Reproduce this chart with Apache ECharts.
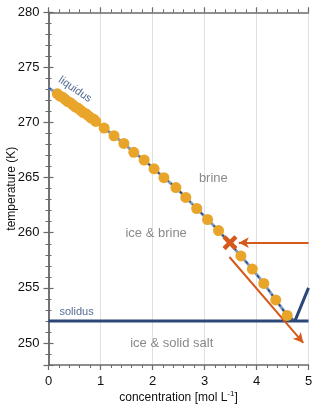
<!DOCTYPE html>
<html>
<head>
<meta charset="utf-8">
<script src="https://cdn.jsdelivr.net/npm/echarts@6/dist/echarts.min.js"></script>
<style>
  html, body { margin: 0; padding: 0; background: #fff; }
  #chart { width: 320px; height: 412px; }
</style>
</head>
<body>
<div id="chart"></div>
<script>
// measured freezing points (concentration in mol/L, temperature in K)
const measuredX = [0.17, 0.22, 0.27, 0.32, 0.37, 0.42, 0.47, 0.52, 0.57, 0.62, 0.67, 0.72, 0.77, 0.82, 0.87, 0.91,
    1.07, 1.26, 1.45, 1.64, 1.84, 2.03, 2.22, 2.45, 2.64, 2.85, 3.06, 3.27, 3.70, 3.92, 4.14, 4.37, 4.59];
const measuredT = [272.6, 272.4, 272.3, 272.1, 271.9, 271.8, 271.6, 271.4, 271.3, 271.1, 270.9, 270.8, 270.6, 270.4, 270.3, 270.1,
    269.5, 268.8, 268.1, 267.3, 266.6, 265.8, 265.0, 264.1, 263.2, 262.2, 261.2, 260.2, 257.9, 256.7, 255.4, 253.9, 252.5];

// liquidus end points: pure water and eutectic
const liquidusStart = [0, 273.15];
const eutectic = [4.74, 252.0];

// solidus and salt solubility line
const solidusX = [0, 5];
const solidusT = [252, 252];
const saltLine = [[4.74, 252], [5, 255]];

// marked sample and the two arrows
const sample = [3.49, 259.1];
const arrowIn = [[5, 259.1], [3.66, 259.1]];
const arrowOut = [[3.48, 257.8], [4.9, 250.0]];

// region labels
const regionNames = ['brine', 'ice & brine', 'ice & solid salt'];
const regionX = [3.17, 2.07, 2.37];
const regionT = [264.95, 259.95, 249.95];

const NAVY = '#2b4677';
const ORANGE = '#d4591b';
const FONT = '"Liberation Sans", Arial, sans-serif';

const measured = measuredX.map((x, i) => [x, measuredT[i]]);
const liquidus = [liquidusStart, ...measured, eutectic];

const chart = echarts.init(document.getElementById('chart'));

const axisLine = { show: true, lineStyle: { color: '#6a6a6a', width: 1.5 } };
const axisTick = { show: true, inside: false, length: 5, lineStyle: { color: '#6a6a6a', width: 1.2 } };
const minorTick = { show: true, splitNumber: 5, length: 3, lineStyle: { color: '#6a6a6a', width: 1 } };

chart.setOption({
    animation: false,
    grid: { left: 48.5, right: 11.5, top: 12.3, bottom: 47, outerBoundsMode: 'none' },
    xAxis: [
        {
            type: 'value', min: 0, max: 5, interval: 1, position: 'bottom',
            name: 'concentration [mol L{sup|-1}]', nameLocation: 'middle', nameGap: 25, nameMoveOverlap: false,
            nameTextStyle: {
                color: '#111', fontSize: 12, fontFamily: FONT,
                rich: { sup: { fontSize: 8, verticalAlign: 'top', padding: [0, 0, 8, 0], color: '#111', fontFamily: FONT } }
            },
            axisLine, axisTick, minorTick,
            axisLabel: { color: '#111', fontSize: 13, fontFamily: FONT, margin: 10 },
            splitLine: { show: true, lineStyle: { color: '#e0e0e0', width: 1 } }
        },
        {
            type: 'value', min: 0, max: 5, interval: 1, position: 'top',
            axisLine, axisTick, minorTick,
            axisLabel: { show: false }, splitLine: { show: false }
        }
    ],
    yAxis: [
        {
            type: 'value', min: 248, max: 280, position: 'left',
            name: 'temperature (K)', nameLocation: 'middle', nameGap: 31, nameRotate: 90, nameMoveOverlap: false,
            nameTextStyle: { color: '#111', fontSize: 12, fontFamily: FONT },
            axisLine, axisTick, minorTick,
            axisLabel: { color: '#111', fontSize: 13, fontFamily: FONT, margin: 9, showMinLabel: false },
            splitLine: { show: false }
        },
        {
            type: 'value', min: 248, max: 280, position: 'right',
            axisLine, axisTick, minorTick,
            axisLabel: { show: false }, splitLine: { show: false }
        }
    ],
    series: [
        {
            name: 'liquidus base', type: 'line', data: liquidus, symbol: 'none', silent: true, z: 3,
            lineStyle: { color: '#7f9bc4', width: 3 }
        },
        {
            name: 'liquidus', type: 'line', data: liquidus, symbol: 'none', silent: true, z: 4,
            lineStyle: { color: NAVY, width: 1.5, type: [3, 3] }
        },
        {
            name: 'solidus', type: 'line', data: solidusX.map((x, i) => [x, solidusT[i]]), symbol: 'none', silent: true, z: 4,
            lineStyle: { color: NAVY, width: 3 }
        },
        {
            name: 'salt', type: 'line', data: saltLine, symbol: 'none', silent: true, z: 4,
            lineStyle: { color: NAVY, width: 3 }
        },
        {
            name: 'measured', type: 'scatter', data: measured, symbol: 'circle', symbolSize: 11, z: 5,
            itemStyle: { color: '#e9a52a', opacity: 1 }
        },
        {
            name: 'arrows', type: 'line', data: [], z: 6,
            markLine: {
                silent: true, symbol: ['none', 'arrow'], symbolSize: [8, 10],
                label: { show: false },
                lineStyle: { color: ORANGE, width: 2, type: 'solid' },
                data: [
                    [{ coord: arrowIn[0] }, { coord: arrowIn[1] }],
                    [{ coord: arrowOut[0] }, { coord: arrowOut[1] }]
                ]
            }
        },
        {
            name: 'sample', type: 'scatter', data: [sample], z: 7, symbolSize: 15,
            symbol: 'path://M0,3 L3,0 L7,4 L11,0 L14,3 L10,7 L14,11 L11,14 L7,10 L3,14 L0,11 L4,7 Z',
            itemStyle: { color: ORANGE, opacity: 1 }
        },
        {
            name: 'regions', type: 'scatter', symbolSize: 0, silent: true, z: 8,
            data: regionNames.map((n, i) => ({ name: n, value: [regionX[i], regionT[i]] })),
            label: { show: true, position: 'inside', formatter: '{b}', color: '#6b6b6b', fontSize: 13, fontFamily: FONT }
        },
        {
            name: 'line labels', type: 'scatter', symbolSize: 0, silent: true, z: 8,
            data: [
                { name: 'liquidus', value: [0.51, 273.0], label: { rotate: -34 } },
                { name: 'solidus', value: [0.54, 252.8] }
            ],
            label: { show: true, position: 'inside', formatter: '{b}', color: NAVY, fontSize: 11, fontFamily: FONT }
        }
    ]
});
window.addEventListener('resize', () => chart.resize());
</script>
</body>
</html>
